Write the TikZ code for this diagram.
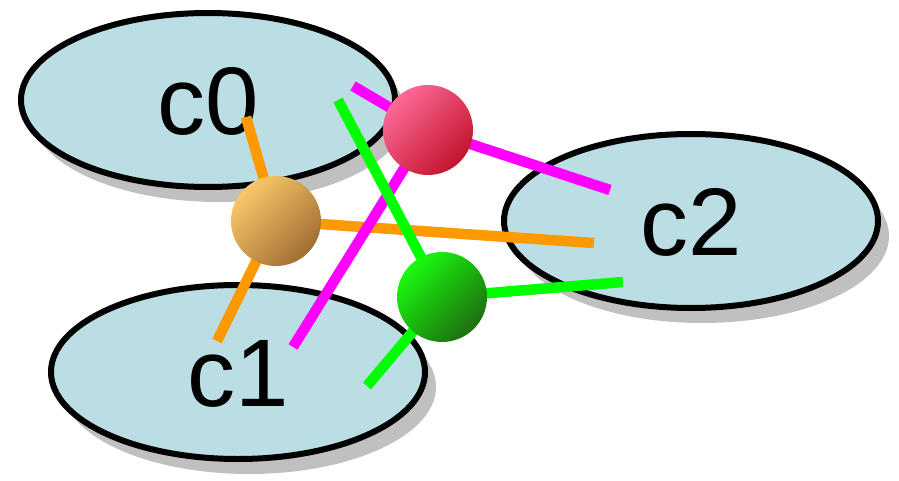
\documentclass[tikz,border=0pt]{standalone}
\usepackage{fontspec}
\setmainfont{Liberation Sans}
\usetikzlibrary{shapes.geometric,shadows}
\pgfdeclarelayer{back}
\pgfdeclarelayer{mid}
\pgfsetlayers{back,mid,main}
\definecolor{ellfill}{HTML}{BBDEE4}
\definecolor{shadowgray}{HTML}{C0C0C0}
\definecolor{lorange}{HTML}{FF9900}
\definecolor{lmagenta}{HTML}{FF00FF}
\definecolor{lgreen}{HTML}{00FF00}
\tikzset{
  cluster/.style={ellipse, draw=black, line width=6pt, fill=ellfill,
    minimum width=374pt, minimum height=174pt, inner sep=0pt,
    text height=69pt, text depth=0pt,
    font=\fontsize{96}{96}\selectfont,
    general shadow={fill=shadowgray, shadow xshift=11pt, shadow yshift=-15pt}},
  ballnode/.style={circle, minimum size=90pt, inner sep=0pt, shading angle=45},
  link/.style={line width=10.5pt, line cap=butt},
}
\begin{document}
\begin{tikzpicture}[x=1pt,y=-1pt]
\useasboundingbox (0,0) rectangle (899,481);
\begin{pgfonlayer}{back}
\node[cluster] (c0) at (208,100) {c0};
\node[cluster] (c1) at (238,372) {c1};
\node[cluster] (c2) at (691,221) {c2};
\end{pgfonlayer}
% balls
\node[ballnode, top color={rgb,255:red,250;green,200;blue,105}, bottom color={rgb,255:red,160;green,110;blue,50}, shading angle=45] (bo) at (276,221) {};
\node[ballnode, top color={rgb,255:red,252;green,105;blue,150}, bottom color={rgb,255:red,195;green,20;blue,45}, shading angle=45] (bp) at (428,130) {};
\node[ballnode, top color={rgb,255:red,25;green,250;blue,15}, bottom color={rgb,255:red,30;green,110;blue,15}, shading angle=45] (bg) at (442,297) {};
% link ends
\coordinate (o0) at (246,117);
\coordinate (o1) at (217,341);
\coordinate (o2) at (594,243);
\coordinate (p0) at (353,86);
\coordinate (p1) at (293,347);
\coordinate (p2) at (610,190);
\coordinate (g0) at (338,100);
\coordinate (g1) at (367,386);
\coordinate (g2) at (623,282);
\begin{pgfonlayer}{mid}
\draw[link, lorange] (bo.center) -- (o0);
\draw[link, lorange] (bo.center) -- (o1);
\draw[link, lorange] (bo.center) -- (o2);
\draw[link, lmagenta] (bp.center) -- (p0);
\draw[link, lmagenta] (bp.center) -- (p1);
\draw[link, lmagenta] (bp.center) -- (p2);
\draw[link, lgreen] (bg.center) -- (g0);
\draw[link, lgreen] (bg.center) -- (g1);
\draw[link, lgreen] (bg.center) -- (g2);
\end{pgfonlayer}
\end{tikzpicture}
\end{document}
